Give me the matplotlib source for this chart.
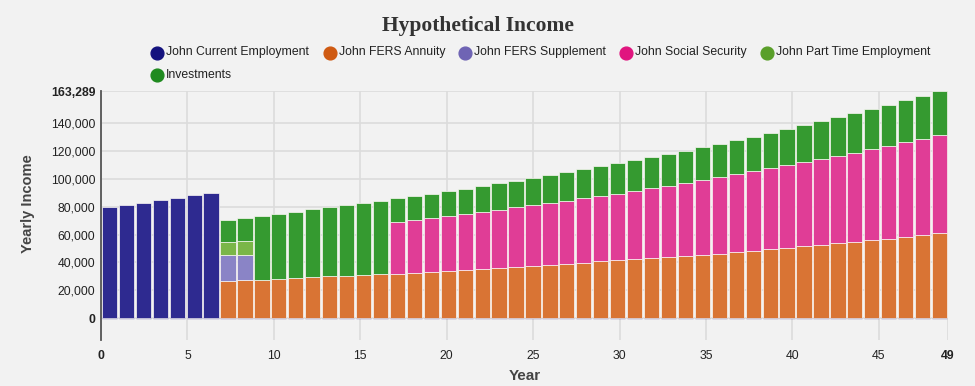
import matplotlib
matplotlib.use("Agg")
import matplotlib.pyplot as plt
import numpy as np

years = list(range(50))

current_employment = [80000, 81600, 83000, 84800, 86500, 88200, 90000] + [0] * 43

fers_annuity = [0] * 7 + [
    26800, 27300, 27700, 28200, 28700, 29400, 29900, 30400, 31100, 31600,
    32000, 32600, 33200, 34000, 34700, 35400, 36100, 36800, 37600, 38300,
    39000, 39800, 40700, 41400, 42100, 42900, 43800, 44500, 45500, 46200,
    47200, 48500, 49600, 50600, 51600, 52600, 53700, 54800, 56000, 57200,
    58400, 59600, 61000]

fers_supplement = [0] * 7 + [18200, 17900] + [0] * 41

part_time = [0] * 7 + [9800, 10300] + [0] * 41

social_security = [0] * 17 + [
    37200, 37800, 38600, 39200, 40200, 40900, 41900, 42700, 43500, 44500,
    45500, 46400, 47100, 48100, 49300, 50400, 51500, 52700, 53600, 55000,
    56200, 57000, 58000, 59300, 60300, 61600, 62800, 64100, 65300, 66500,
    68000, 69400, 70600]

investments = [0] * 7 + [
    15600, 16500, 45800, 46700, 47900, 48900, 49800, 50700, 51900, 52900,
    16800, 17200, 17700, 18200, 18200, 18700, 18900, 19300, 19700, 20100,
    20300, 20800, 21300, 21800, 22000, 22300, 22700, 23200, 23700, 24200,
    24400, 25000, 25700, 26300, 26900, 27500, 28000, 28300, 29000, 29700,
    30100, 30600, 31689]

series_names = ["John Current Employment", "John FERS Annuity", "John FERS Supplement",
                "John Social Security", "John Part Time Employment", "Investments"]
bar_colors = ["#2e2a90", "#d97434", "#8a84c6", "#e03d96", "#7ab648", "#359a30"]
legend_colors = ["#14127e", "#cf5a12", "#6f64b4", "#e0157f", "#5a9f2a", "#1f8a1f"]

y_ticks = [0, 20000, 40000, 60000, 80000, 100000, 120000, 140000, 163289]
x_ticks = [0, 5, 10, 15, 20, 25, 30, 35, 40, 45, 49]

W, H = 975, 386
fig = plt.figure(figsize=(W / 100, H / 100), dpi=100)
fig.patch.set_facecolor("#f2f2f2")

ax = fig.add_axes([101 / W, 1 - 340 / H, (948 - 101) / W, (340 - 91) / H])
ax.set_facecolor("#f2f2f2")

n = len(years)
span = 49.0
period = span / n
x = np.array(years) * period + 0.05 * period
w = 0.9 * period

stack_order = [
    (current_employment, bar_colors[0]),
    (fers_annuity, bar_colors[1]),
    (fers_supplement, bar_colors[2]),
    (part_time, bar_colors[4]),
    (social_security, bar_colors[3]),
    (investments, bar_colors[5]),
]
# thin line for zero-valued employment series
ax.bar(x, np.zeros(n), width=w, align="edge", color="none",
       edgecolor=bar_colors[0], linewidth=0.9, zorder=2.5)
bottom = np.zeros(n)
for vals, col in stack_order:
    v = np.array(vals, dtype=float)
    mask = v > 0
    ax.bar(x[mask], v[mask], width=w, bottom=bottom[mask], align="edge",
           color=col, edgecolor="#fbf8f4", linewidth=0.5, zorder=3)
    bottom += v

ax.set_xlim(0, 49)
ax.set_ylim(-15800, 163289)
ax.set_yticks(y_ticks)
ax.set_yticklabels([f"{t:,}" for t in y_ticks])
ax.set_xticks(x_ticks)
ax.set_xticklabels([str(t) for t in x_ticks])
for lbl, t in zip(ax.get_yticklabels(), y_ticks):
    lbl.set_fontweight("bold" if t in (0, 163289) else "normal")
for lbl, t in zip(ax.get_xticklabels(), x_ticks):
    lbl.set_fontweight("bold" if t in (0, 49) else "normal")
ax.tick_params(axis="both", length=0, labelsize=8.8, colors="#222222",
               labelfontfamily="Liberation Sans")
ax.tick_params(axis="y", pad=4)
ax.tick_params(axis="x", pad=7)
ax.grid(True, color="#dcdcdc", linewidth=1.2, zorder=0)
for s in ["top", "right", "bottom"]:
    ax.spines[s].set_visible(False)
ax.spines["left"].set_color("#555555")
ax.spines["left"].set_linewidth(1.3)

fig.text(28 / W, 1 - 204 / H, "Yearly Income", rotation=90, ha="center", va="center",
         fontsize=10.5, fontweight="bold", color="#444444", family="Liberation Sans")
ax.set_xlabel("Year", fontsize=11, fontweight="bold", color="#444444",
              family="Liberation Sans", labelpad=5)

fig.text(478 / W, 1 - 25.5 / H, "Hypothetical Income", ha="center", va="center",
         fontsize=15.5, fontweight="bold", family="Liberation Serif", color="#333333")

leg_pos = [(157, 52.5), (329.6, 52.5), (465.2, 52.5), (626.2, 52.5), (766.8, 52.5), (157, 75)]
for (px, py), name, col in zip(leg_pos, series_names, legend_colors):
    fig.add_artist(plt.Line2D([px / W], [1 - py / H], marker="o", markersize=9.2,
                              color=col, linestyle="none", transform=fig.transFigure))
    fig.text((px + 9) / W, 1 - py / H, name, ha="left", va="center", fontsize=8.8,
             family="Liberation Sans", color="#222222")

fig.savefig("out.png", dpi=100, facecolor=fig.get_facecolor())
